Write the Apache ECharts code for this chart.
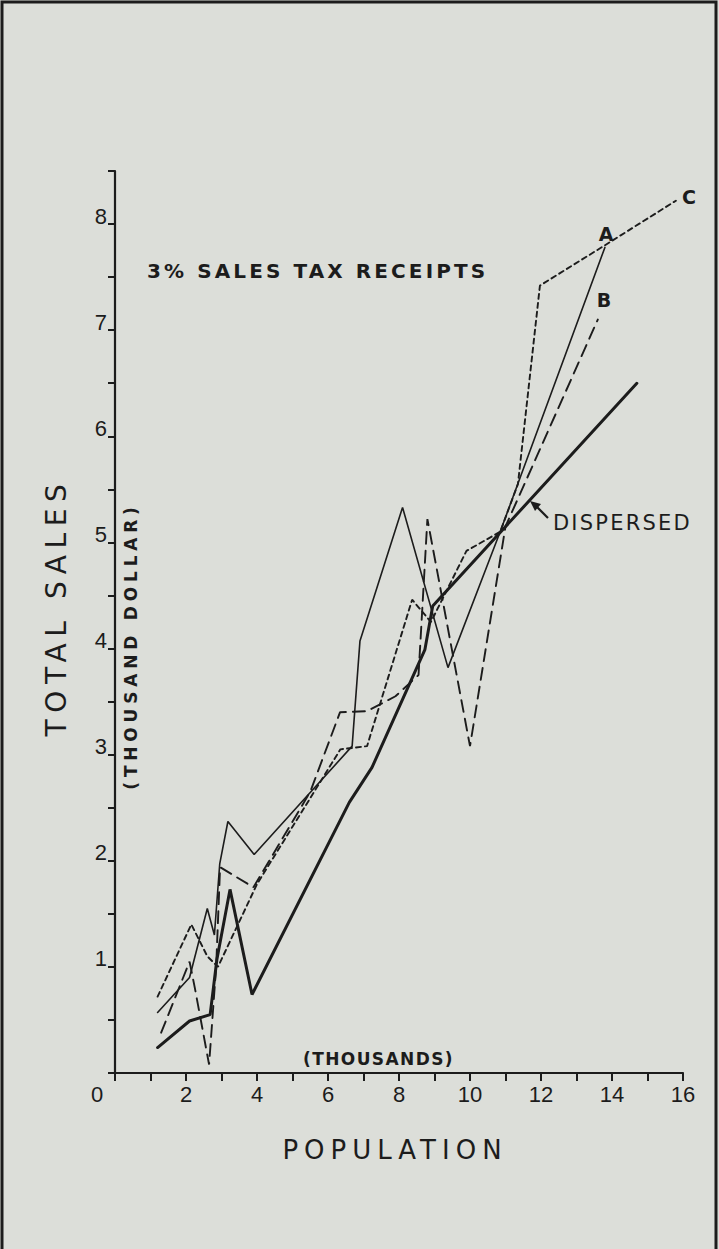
<!DOCTYPE html>
<html><head><meta charset="utf-8">
<script src="https://cdn.jsdelivr.net/npm/echarts@6.0.0/dist/echarts.min.js"></script>
<style>html,body{margin:0;padding:0;background:#dcded9}#c{width:719px;height:1249px}</style>
</head><body><div id="c"></div>
<script>
// ---- data (population in thousands, sales in thousand dollars) ----
const xTickLabels = [0, 2, 4, 6, 8, 10, 12, 14, 16];
const yTickLabels = [1, 2, 3, 4, 5, 6, 7, 8];
const seriesNames = ['A', 'B', 'C', 'DISPERSED'];
const seriesA = [[1.2,0.57],[2.1,0.9],[2.6,1.55],[2.8,1.3],[2.95,1.97],[3.18,2.37],[3.92,2.06],[6.68,3.08],[6.9,4.07],[8.1,5.33],[9.38,3.82],[10.85,5.1],[13.8,7.78]];
const seriesB = [[1.3,0.38],[2.1,1.05],[2.25,0.8],[2.65,0.08],[2.85,1.0],[2.96,1.94],[3.9,1.75],[5.5,2.65],[6.34,3.4],[7.1,3.41],[7.9,3.55],[8.55,3.75],[8.8,5.22],[10.0,3.08],[11.0,5.15],[13.6,7.1]];
const seriesC = [[1.2,0.72],[2.15,1.4],[2.6,1.1],[2.9,1.0],[4.0,1.78],[6.35,3.05],[7.1,3.08],[8.37,4.46],[8.9,4.25],[9.9,4.92],[10.85,5.1],[11.35,5.55],[11.97,7.42],[13.8,7.8],[15.8,8.22]];
const seriesD = [[1.2,0.24],[2.1,0.49],[2.68,0.55],[2.87,1.07],[3.24,1.73],[3.86,0.74],[6.6,2.55],[7.24,2.88],[8.73,3.99],[8.95,4.4],[14.7,6.5]];

const INK = '#1c1c1c';
const chart = echarts.init(document.getElementById('c'), null, {renderer: 'svg', width: 719, height: 1249});

function lineSeries(name, data, width, type) {
  return {name: name, type: 'line', data: data, symbol: 'none', showSymbol: false,
    lineStyle: {color: INK, width: width, type: type, cap: 'round'}, animation: false, z: 3};
}

const option = {
  backgroundColor: '#dcded9',
  animation: false,
  grid: {left: 115, right: 36, top: 171, bottom: 176, containLabel: false},
  xAxis: {
    type: 'value', min: 0, max: 16, interval: 1,
    axisLine: {show: true, onZero: false, lineStyle: {color: INK, width: 2.2}},
    axisTick: {show: true, length: 8, lineStyle: {color: INK, width: 2}},
    splitLine: {show: false},
    axisLabel: {
      margin: 10, color: INK, fontSize: 22, fontFamily: 'Liberation Sans',
      formatter: function (v) {
        if (xTickLabels.indexOf(v) < 0) return '';
        return v === 0 ? '{z|0}' : String(v);
      },
      rich: {z: {padding: [0, 36, 0, 0], fontSize: 22, fontFamily: 'Liberation Sans', color: INK}}
    }
  },
  yAxis: {
    type: 'value', min: 0, max: 8.5, interval: 0.5,
    axisLine: {show: true, onZero: false, lineStyle: {color: INK, width: 2.2}},
    axisTick: {show: true, length: 7, lineStyle: {color: INK, width: 2}},
    splitLine: {show: false},
    axisLabel: {
      margin: 8, color: INK, fontSize: 22, fontFamily: 'Liberation Sans',
      verticalAlign: 'bottom', lineHeight: 16,
      formatter: function (v) { return yTickLabels.indexOf(v) >= 0 ? String(v) : ''; }
    }
  },
  series: [
    lineSeries(seriesNames[0], seriesA, 1.6, 'solid'),
    lineSeries(seriesNames[1], seriesB, 1.9, [12, 7]),
    lineSeries(seriesNames[2], seriesC, 1.9, [5, 4]),
    lineSeries(seriesNames[3], seriesD, 3, 'solid')
  ],
  graphic: [
    {type: 'polyline', shape: {points: [[2, 1260], [2, 2], [716, 2], [716, 1260]]}, style: {stroke: INK, lineWidth: 3, fill: null}},
    {type: 'text', x: 147, y: 271, style: {text: '3% SALES TAX RECEIPTS', fill: INK, fontSize: 20, fontWeight: 'bold', fontFamily: 'DejaVu Sans', textAlign: 'left', textVerticalAlign: 'middle', align: 'left', verticalAlign: 'middle'}},
    {type: 'text', x: 56, y: 607, rotation: Math.PI / 2, style: {text: 'TOTAL SALES', fill: INK, fontSize: 28, fontFamily: 'DejaVu Sans', textAlign: 'center', textVerticalAlign: 'middle', align: 'center', verticalAlign: 'middle'}},
    {type: 'text', x: 131, y: 646, rotation: Math.PI / 2, style: {text: '(THOUSAND DOLLAR)', fill: INK, fontSize: 17, fontWeight: 'bold', fontFamily: 'DejaVu Sans', textAlign: 'center', textVerticalAlign: 'middle', align: 'center', verticalAlign: 'middle'}},
    {type: 'text', x: 303, y: 1059, style: {text: '(THOUSANDS)', fill: INK, fontSize: 17, fontWeight: 'bold', fontFamily: 'DejaVu Sans', textAlign: 'left', textVerticalAlign: 'middle', align: 'left', verticalAlign: 'middle'}},
    {type: 'text', x: 395, y: 1150, style: {text: 'POPULATION', fill: INK, fontSize: 26, fontFamily: 'DejaVu Sans', textAlign: 'center', textVerticalAlign: 'middle', align: 'center', verticalAlign: 'middle'}},
    {type: 'text', x: 606, y: 234, style: {text: 'A', fill: INK, fontSize: 19, fontWeight: 'bold', fontFamily: 'DejaVu Sans', textAlign: 'center', textVerticalAlign: 'middle', align: 'center', verticalAlign: 'middle'}},
    {type: 'text', x: 604, y: 300, style: {text: 'B', fill: INK, fontSize: 19, fontWeight: 'bold', fontFamily: 'DejaVu Sans', textAlign: 'center', textVerticalAlign: 'middle', align: 'center', verticalAlign: 'middle'}},
    {type: 'text', x: 689, y: 197, style: {text: 'C', fill: INK, fontSize: 19, fontWeight: 'bold', fontFamily: 'DejaVu Sans', textAlign: 'center', textVerticalAlign: 'middle', align: 'center', verticalAlign: 'middle'}},
    {type: 'text', x: 553, y: 523, style: {text: 'DISPERSED', fill: INK, fontSize: 21, fontFamily: 'DejaVu Sans', textAlign: 'left', textVerticalAlign: 'middle', align: 'left', verticalAlign: 'middle'}},
    {type: 'line', shape: {x1: 548, y1: 518, x2: 536, y2: 506}, style: {stroke: INK, lineWidth: 2.2}},
    {type: 'polygon', shape: {points: [[530, 501], [541, 504], [535, 511]]}, style: {fill: INK}}
  ]
};
chart.setOption(option);

const spacing = {'3% SALES TAX RECEIPTS': 3.1, 'TOTAL SALES': 6.6, '(THOUSAND DOLLAR)': 4.8, '(THOUSANDS)': 1.4, 'POPULATION': 6.0, 'DISPERSED': 2.2};
function applySpacing() {
  document.querySelectorAll('#c text').forEach(function (t) {
    const s = spacing[t.textContent];
    if (s !== undefined) { t.setAttribute('letter-spacing', s); t.style.letterSpacing = s + 'px'; }
  });
}
applySpacing();
setTimeout(applySpacing, 0);
chart.on('finished', applySpacing);
</script></body></html>
